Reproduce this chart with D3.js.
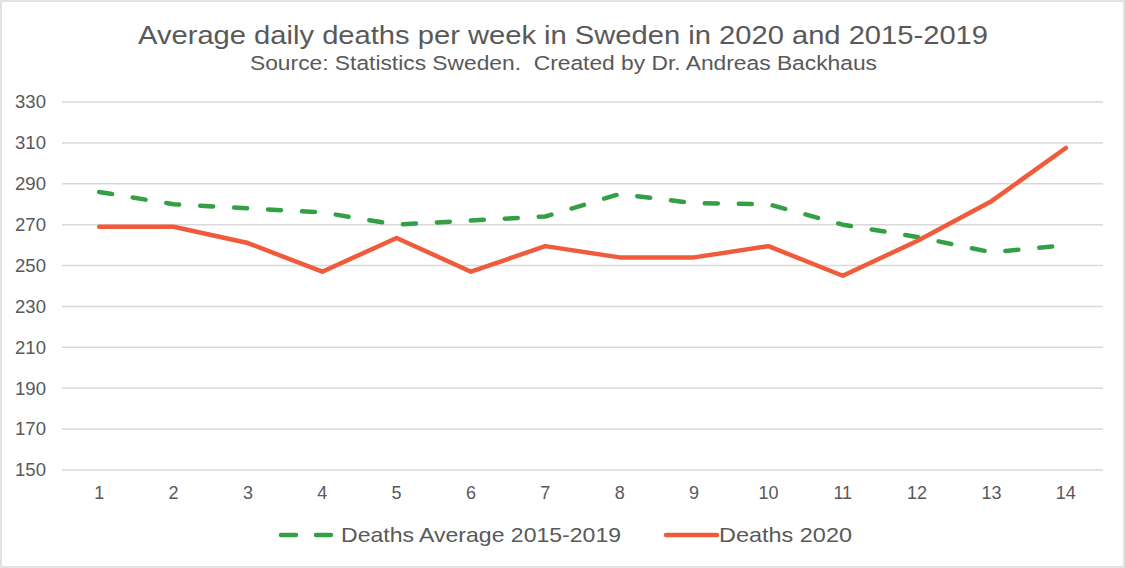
<!DOCTYPE html>
<html>
<head>
<meta charset="utf-8">
<script src="https://cdn.jsdelivr.net/npm/d3@7"></script>
<style>
  body { margin: 0; background: white; }
  text { font-family: "Liberation Sans", Arial, sans-serif; fill: #595959; }
</style>
</head>
<body>
<div id="chart"></div>
<script>
// Data
const weeks = [1, 2, 3, 4, 5, 6, 7, 8, 9, 10, 11, 12, 13, 14];
const deathsAvg = [286, 280, 278, 276, 270, 272, 274, 285, 280.5, 280, 270, 264, 256.5, 260];
const deaths2020 = [269, 269, 261, 247, 263.5, 247, 259.5, 254, 254, 259.5, 245, 262, 281.5, 307.5];
const yTicks = [150, 170, 190, 210, 230, 250, 270, 290, 310, 330];

let width = 1125, height = 568;
let margin = { top: 102, bottom: 98, left: 62, right: 22 };

let svg = d3.select('#chart')
    .append('svg')
    .attr('width', width)
    .attr('height', height)
    .style('background', 'white');

// chart border
svg.append('rect')
    .attr('x', 1).attr('y', 1)
    .attr('width', width - 2).attr('height', height - 2)
    .attr('fill', 'none')
    .attr('stroke', '#d9d9d9')
    .attr('stroke-width', 1.5);

// scales
let xScale = d3.scaleBand()
    .domain(weeks)
    .range([margin.left, width - margin.right]);

let yScale = d3.scaleLinear()
    .domain([150, 330])
    .range([height - margin.bottom, margin.top]);

const xc = d => xScale(d) + xScale.bandwidth() / 2;

// gridlines
svg.append('g')
    .selectAll('line')
    .data(yTicks)
    .enter()
    .append('line')
    .attr('x1', margin.left)
    .attr('x2', width - margin.right)
    .attr('y1', d => yScale(d))
    .attr('y2', d => yScale(d))
    .attr('stroke', '#d9d9d9')
    .attr('stroke-width', 1.5);

// y tick labels
svg.append('g')
    .selectAll('text')
    .data(yTicks)
    .enter()
    .append('text')
    .attr('x', 46)
    .attr('y', d => yScale(d))
    .attr('dy', '0.35em')
    .attr('text-anchor', 'end')
    .attr('textLength', 31)
    .attr('lengthAdjust', 'spacingAndGlyphs')
    .style('font-size', '18px')
    .text(d => d);

// x tick labels
svg.append('g')
    .selectAll('text')
    .data(weeks)
    .enter()
    .append('text')
    .attr('x', d => xc(d))
    .attr('y', 499)
    .attr('text-anchor', 'middle')
    .style('font-size', '18px')
    .text(d => d);

// lines
const line = d3.line()
    .x((d, i) => xc(weeks[i]))
    .y(d => yScale(d));

svg.append('path')
    .datum(deathsAvg)
    .attr('d', line)
    .attr('fill', 'none')
    .attr('stroke', '#34a046')
    .attr('stroke-width', 4.5)
    .attr('stroke-linecap', 'round')
    .attr('stroke-linejoin', 'round')
    .attr('stroke-dasharray', '13,21');

svg.append('path')
    .datum(deaths2020)
    .attr('d', line)
    .attr('fill', 'none')
    .attr('stroke', '#f05b3c')
    .attr('stroke-width', 4.5)
    .attr('stroke-linecap', 'round')
    .attr('stroke-linejoin', 'round');

// title (reference text is a bit wider than Liberation Sans, so stretch it)
svg.append('text')
    .attr('x', 138)
    .attr('y', 44)
    .attr('textLength', 850)
    .attr('lengthAdjust', 'spacingAndGlyphs')
    .style('font-size', '26px')
    .text('Average daily deaths per week in Sweden in 2020 and 2015-2019');

svg.append('text')
    .attr('x', 250)
    .attr('y', 70)
    .attr('textLength', 627)
    .attr('lengthAdjust', 'spacingAndGlyphs')
    .style('font-size', '20px')
    .text('Source: Statistics Sweden.\u00a0 Created by Dr. Andreas Backhaus');

// legend
const legend = svg.append('g');
legend.append('line')
    .attr('x1', 281).attr('x2', 333)
    .attr('y1', 535).attr('y2', 535)
    .attr('stroke', '#34a046')
    .attr('stroke-width', 4.5)
    .attr('stroke-linecap', 'round')
    .attr('stroke-dasharray', '15,20');
legend.append('text')
    .attr('x', 341).attr('y', 542)
    .attr('textLength', 280)
    .attr('lengthAdjust', 'spacingAndGlyphs')
    .style('font-size', '21px')
    .text('Deaths Average 2015-2019');

legend.append('line')
    .attr('x1', 666).attr('x2', 717)
    .attr('y1', 535).attr('y2', 535)
    .attr('stroke', '#f05b3c')
    .attr('stroke-width', 4.5)
    .attr('stroke-linecap', 'round');
legend.append('text')
    .attr('x', 719).attr('y', 542)
    .attr('textLength', 133)
    .attr('lengthAdjust', 'spacingAndGlyphs')
    .style('font-size', '21px')
    .text('Deaths 2020');
</script>
</body>
</html>
